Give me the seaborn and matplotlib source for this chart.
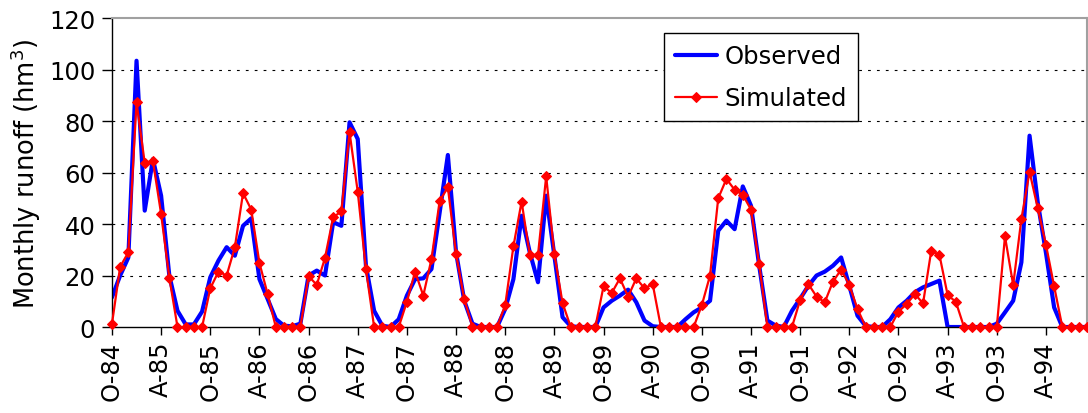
import numpy as np
import pandas as pd
import matplotlib
matplotlib.use('Agg')
import matplotlib.pyplot as plt
import seaborn as sns

# Monthly runoff, Oct 1984 - Sep 1994 (hm3)
observed = [
    11.5, 20, 27, 103.4, 45.2, 65.2, 51, 20, 6.3, 1, 1, 6,
    19.3, 25.8, 31, 27.7, 39.3, 42.2, 18.6, 10.9, 3.1, 0.5, 0.3, 1.3,
    20, 21.9, 20, 40.7, 39.3, 79.5, 73, 23.8, 6.3, 0.5, 0, 3,
    12.2, 18.6, 18.9, 22.5, 44.5, 66.8, 29, 10.2, 1.3, 0, 0, 0,
    7, 18.6, 43.2, 29, 17.4, 51, 27.7, 3.8, 0.3, 0, 0, 0,
    7.6, 10.2, 12.2, 14.5, 9.6, 2.5, 0.3, 0, 0, 0, 3, 5.7,
    7.6, 10.2, 37.4, 41.3, 38, 54.6, 47.1, 23.8, 2.5, 0.6, 0, 6.3,
    11, 16, 20, 21.5, 23.8, 27, 16, 4.4, 0.4, 0, 0, 3,
    7.6, 10.2, 13.5, 15.4, 16.7, 18, 0, 0, 0, 0, 0, 0,
    1.3, 5.7, 10.2, 25.1, 74.3, 48.4, 28.8, 7.6, 0, 0, 0, 0,
]
simulated = [
    1.2, 23.4, 29, 87.3, 63.7, 64.5, 43.9, 19.2, 0, 0, 0, 0,
    15, 21.5, 20, 31, 52, 45.6, 24.9, 12.8, 0, 0, 0, 0,
    19.7, 16.4, 26.8, 42.6, 44.9, 75.6, 52.5, 22.5, 0, 0, 0, 0,
    9.8, 21.5, 12.2, 26.4, 49, 54.2, 28.3, 10.9, 0, 0, 0, 0,
    8.5, 31.3, 48.7, 28, 28, 58.5, 28.3, 9.3, 0, 0, 0, 0,
    15.8, 13.2, 18.9, 11.8, 18.9, 15, 16.7, 0, 0, 0, 0, 0,
    8.5, 20, 50, 57.5, 53.3, 51.3, 45.6, 24.5, 0, 0, 0, 0,
    10.5, 16.7, 11.8, 9.6, 17.6, 22.3, 16.3, 7, 0, 0, 0, 0,
    6, 8.9, 12.8, 9.2, 29.6, 28, 12.4, 9.8, 0, 0, 0, 0,
    0, 35.2, 16.3, 41.9, 60.3, 46.1, 32, 15.8, 0, 0, 0, 0,
]
tick_labels = ['O-84', 'A-85', 'O-85', 'A-86', 'O-86', 'A-87', 'O-87', 'A-88',
               'O-88', 'A-89', 'O-89', 'A-90', 'O-90', 'A-91', 'O-91', 'A-92',
               'O-92', 'A-93', 'O-93', 'A-94']
y_ticks = [0, 20, 40, 60, 80, 100, 120]

months = np.arange(len(observed))
df = pd.DataFrame({'month': months, 'Observed': observed, 'Simulated': simulated})

sns.set_style('white')
plt.rcParams['font.family'] = ['DejaVu Sans']
plt.rcParams['text.color'] = 'black'
plt.rcParams['axes.labelcolor'] = 'black'
plt.rcParams['xtick.color'] = 'black'
plt.rcParams['ytick.color'] = 'black'

fig = plt.figure(figsize=(10.88, 4.14), dpi=100)
ax = fig.add_axes([0.1029, 0.2077, 0.8961, 0.7464])

sns.lineplot(data=df, x='month', y='Observed', ax=ax, color='#0000ff', lw=3,
             label='Observed')
sns.lineplot(data=df, x='month', y='Simulated', ax=ax, color='#ff0000', lw=1.6,
             marker='D', markersize=5.5, markeredgecolor='#ff0000',
             label='Simulated', clip_on=False, zorder=5)

ax.set_xlim(0, len(observed) - 1)
ax.set_ylim(0, 120)
ax.set_xticks(months[::6])
ax.set_xticklabels(tick_labels, rotation=90, fontsize=17.5)
ax.set_yticks(y_ticks)
ax.set_yticklabels([str(v) for v in y_ticks], fontsize=17.5)
ax.set_xlabel('')
ax.set_ylabel('Monthly runoff (hm$^3$)', fontsize=18.5)
ax.yaxis.set_label_coords(-0.071, 0.5)

ax.tick_params(axis='x', direction='out', length=6, width=1, pad=4, bottom=True)
ax.tick_params(axis='y', direction='out', length=7, width=1, pad=5, left=True)

for y in y_ticks[1:-1]:
    ax.axhline(y, color='black', lw=0.8, linestyle=(0, (2.5, 5.5)), zorder=0)

for side in ['left', 'bottom']:
    ax.spines[side].set_color('black')
    ax.spines[side].set_linewidth(1)
for side in ['top', 'right']:
    ax.spines[side].set_color('#a0a0a0')
    ax.spines[side].set_linewidth(1.5)

leg = ax.legend(loc='upper left', bbox_to_anchor=(0.566, 0.951), fontsize=17.5,
                frameon=True, fancybox=False, edgecolor='black', framealpha=1,
                handlelength=1.75, handletextpad=0.3, labelspacing=0.75,
                borderpad=0.45, borderaxespad=0)
leg.get_frame().set_linewidth(1)

fig.savefig('out.png', dpi=100)
